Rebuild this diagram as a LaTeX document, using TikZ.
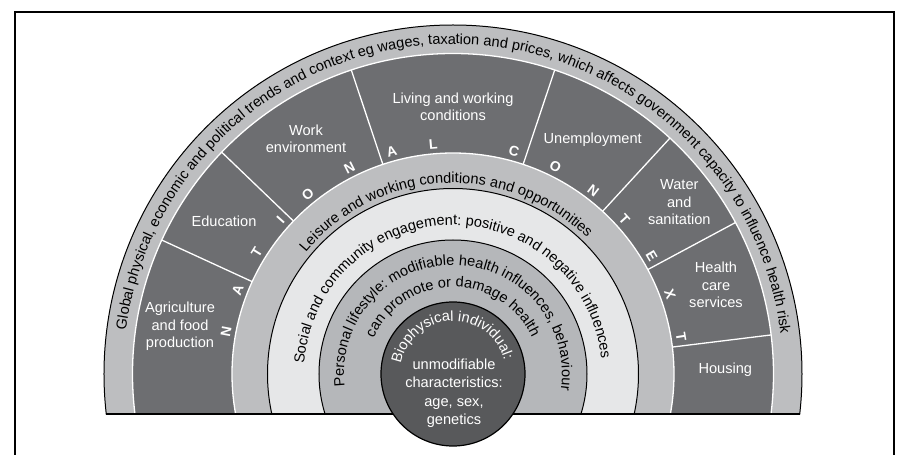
\documentclass[tikz,border=0pt]{standalone}
\usepackage{fontspec}
\setmainfont{Liberation Sans}
\usetikzlibrary{decorations.text}
\definecolor{bandlight}{HTML}{BDBEC0}
\definecolor{banddark}{HTML}{6D6E71}
\definecolor{bandsocial}{HTML}{E6E7E8}
\definecolor{bandpers}{HTML}{B5B7BA}
\definecolor{biocol}{HTML}{58595B}
\newcommand\dgfont{\fontsize{14.6pt}{17.3pt}\selectfont}
\begin{document}
\begin{tikzpicture}[x=1pt,y=1pt,
  celltext/.style={text=white, font=\dgfont, align=center, inner sep=0pt},
  nclet/.style={text=white, font=\fontsize{14pt}{14pt}\selectfont\bfseries, inner sep=0pt},
  sepline/.style={draw=white, line width=1.3pt},
  whitering/.style={draw=white, line width=1.3pt},
  blackring/.style={draw=black, line width=1pt},
  curvtext/.style={decorate, decoration={text along path, text align=center, text={#1}}}]
\useasboundingbox (-453,-81) rectangle (444,374);
\clip (-453,-81) rectangle (444,374);
% frame
\draw[line width=2pt] (-438,-95) -- (-438,362) -- (441,362) -- (441,-95);
% bands
\begin{scope}
\clip (-360,-40) rectangle (360,360);
\fill[bandlight] (0,0) circle[radius=349pt];
\fill[banddark] (0,0) circle[radius=320.5pt];
\fill[bandlight] (0,0) circle[radius=221pt];
\fill[bandsocial] (0,0) circle[radius=185.5pt];
\fill[bandpers] (0,0) circle[radius=134pt];
\draw[whitering] (0,0) circle[radius=320.5pt];
\draw[whitering] (0,0) circle[radius=221pt];
\draw[blackring] (0,0) circle[radius=185.5pt];
\draw[blackring] (0,0) circle[radius=134pt];
\draw[blackring] (0,0) circle[radius=349pt];
\end{scope}
\draw[line width=1.2pt] (-346.7,-40) -- (346.7,-40);
% separators
\foreach \a in {155.3,136.2,108.5,71.5,47.4,28.2,7}
  \draw[sepline] (\a:221pt) -- (\a:320.5pt);
% biophysical circle
\filldraw[fill=biocol, draw=black, line width=1.2pt] (0,0) circle[radius=72pt];
% curved texts
\path[curvtext={|\dgfont|Global physical, economic and political trends and context eg wages, taxation and prices, which affects government capacity to influence health risk}]
  (180:330pt) arc[start angle=180, end angle=-0.6, radius=330pt];
\path[curvtext={|\dgfont|Leisure and working conditions and opportunities}]
  (150:191pt) arc[start angle=150, end angle=35.8, radius=191pt];
\path[curvtext={|\dgfont|Social and community engagement: positive and negative influences}]
  (185.9:149pt) arc[start angle=185.9, end angle=-4.1, radius=149pt];
\path[curvtext={|\dgfont|Personal lifestyle: modifiable health influences, behaviour}]
  (199:109pt) arc[start angle=199, end angle=-21, radius=109pt];
\path[curvtext={|\dgfont|can promote or damage health}]
  (165.3:87pt) arc[start angle=165.3, end angle=15.3, radius=87pt];
\path[curvtext={|\dgfont\color{white}|Biophysical individual:}]
  (181.9:53pt) arc[start angle=181.9, end angle=1.9, radius=53pt];
% cell texts
\node[celltext] (agri) at (-273,47.5) {Agriculture\\and food\\production};
\node[celltext] (edu) at (-229,153) {Education};
\node[celltext] (work) at (-147,235) {Work\\environment};
\node[celltext] (living) at (0,267) {Living and working\\conditions};
\node[celltext] (unemp) at (139.7,234.7) {Unemployment};
\node[celltext] (water) at (226.3,171.7) {Water\\and\\sanitation};
\node[celltext] (healthc) at (263,89) {Health\\care\\services};
\node[celltext] (housing) at (272.3,4) {Housing};
\node[celltext, font=\fontsize{14.6pt}{18.5pt}\selectfont] (bio) at (1,-19) {unmodifiable\\characteristics:\\age, sex,\\genetics};
% NATIONAL CONTEXT letters
\foreach \a/\l [count=\i] in {169.4/N,158.8/A,148.2/T,138.3/I,128.9/O,116.6/N,105.4/A,94.9/L,74.7/C,63.7/O,52.6/N,42.1/T,30.7/E,20.1/X,9.3/T}
  \node[nclet, rotate=\a-90] (nc\i) at (\a:231pt) {\l};
\end{tikzpicture}
\end{document}
